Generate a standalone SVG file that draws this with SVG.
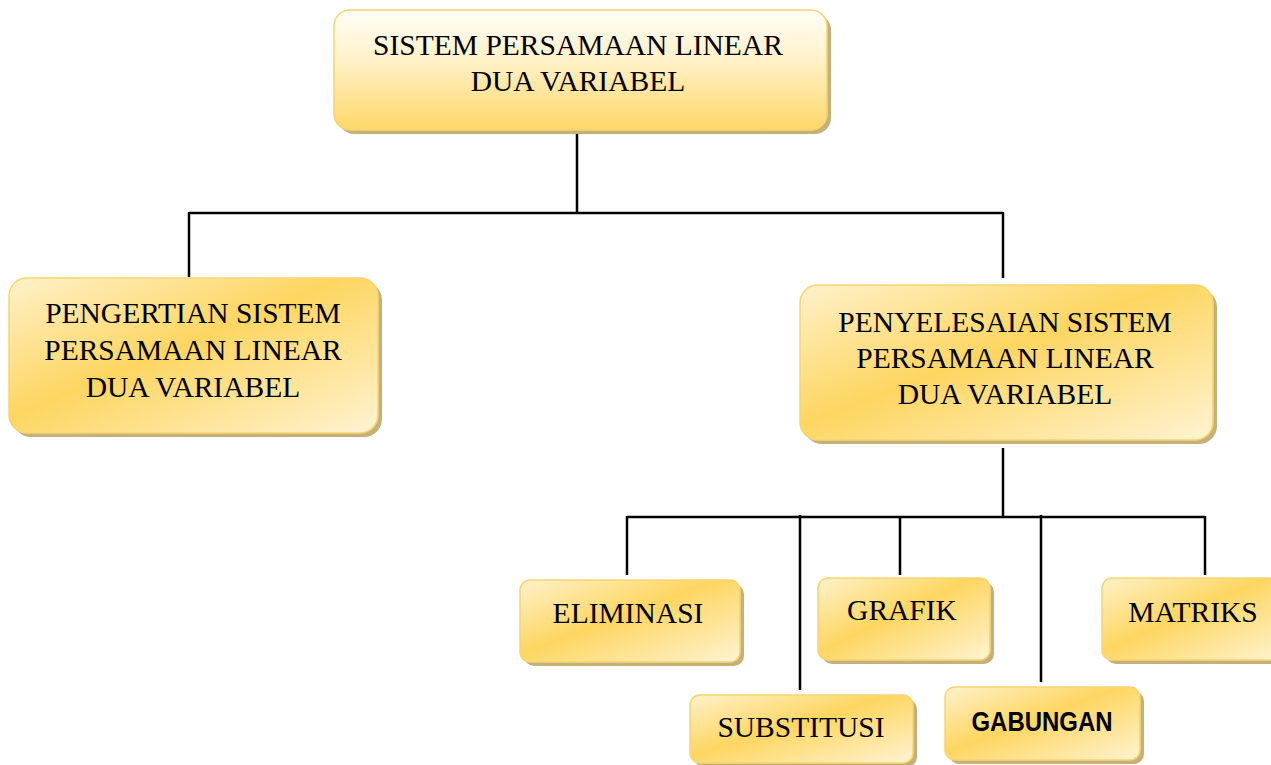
<svg xmlns="http://www.w3.org/2000/svg" width="1271" height="765" viewBox="0 0 1271 765">
<defs>
<linearGradient id="gTop" x1="0" y1="0" x2="0" y2="1">
<stop offset="0" stop-color="#fffdf7"/>
<stop offset="0.45" stop-color="#fff0c4"/>
<stop offset="1" stop-color="#fdd767"/>
</linearGradient>
<linearGradient id="gDiag" x1="0" y1="0" x2="1" y2="1">
<stop offset="0" stop-color="#fff1cb"/>
<stop offset="0.45" stop-color="#fdd661"/>
<stop offset="1" stop-color="#fff3d2"/>
</linearGradient>
</defs>
<style>
.shadow{fill:#c5b07a;}
.box{stroke:#f6d570;stroke-width:1.5;}
.top{fill:url(#gTop);}
.diag{fill:url(#gDiag);}
.t{font-family:"Liberation Serif","Times New Roman",serif;font-size:29.5px;fill:#000;text-anchor:middle;}
.s{font-family:"Liberation Sans",Arial,sans-serif;font-size:27px;font-weight:bold;fill:#000;text-anchor:middle;}
.c{stroke:#000;stroke-width:2.5;fill:none;}
</style>
<g id="connectors">
<path class="c" d="M577 130 V213 M189 213 H1003 M189 212 V277 M1003 212 V278"/>
<path class="c" d="M1003 448 V517 M627 517 H1205 M627 516 V575 M800 515 V690 M900 516 V575 M1041 515 V682 M1205 516 V575"/>
</g>
<g id="node-root">
<rect class="shadow" x="338" y="14" width="493" height="120" rx="16"/>
<rect class="box top" x="334" y="10" width="493" height="120" rx="16"/>
<text class="t" x="578" y="55">SISTEM PERSAMAAN LINEAR</text>
<text class="t" x="578" y="91">DUA VARIABEL</text>
</g>
<g id="node-pengertian">
<rect class="shadow" x="13" y="282" width="369" height="155" rx="18"/>
<rect class="box diag" x="9" y="278" width="369" height="155" rx="18"/>
<text class="t" x="193" y="323">PENGERTIAN SISTEM</text>
<text class="t" x="193" y="360">PERSAMAAN LINEAR</text>
<text class="t" x="193" y="397">DUA VARIABEL</text>
</g>
<g id="node-penyelesaian">
<rect class="shadow" x="804" y="289" width="413" height="155" rx="18"/>
<rect class="box diag" x="800" y="285" width="413" height="155" rx="18"/>
<text class="t" x="1005" y="332">PENYELESAIAN SISTEM</text>
<text class="t" x="1005" y="368">PERSAMAAN LINEAR</text>
<text class="t" x="1005" y="404">DUA VARIABEL</text>
</g>
<g id="node-eliminasi">
<rect class="shadow" x="524" y="584" width="220" height="82" rx="10"/>
<rect class="box diag" x="520" y="580" width="220" height="82" rx="10"/>
<text class="t" x="628" y="623">ELIMINASI</text>
</g>
<g id="node-substitusi">
<rect class="shadow" x="694" y="699" width="223" height="68" rx="10"/>
<rect class="box diag" x="690" y="695" width="223" height="68" rx="10"/>
<text class="t" x="801" y="737">SUBSTITUSI</text>
</g>
<g id="node-grafik">
<rect class="shadow" x="822" y="582" width="172" height="82" rx="10"/>
<rect class="box diag" x="818" y="578" width="172" height="82" rx="10"/>
<text class="t" x="902" y="620">GRAFIK</text>
</g>
<g id="node-gabungan">
<rect class="shadow" x="949" y="691" width="195" height="73" rx="10"/>
<rect class="box diag" x="945" y="687" width="195" height="73" rx="10"/>
<text class="s" x="1042" y="731" textLength="141" lengthAdjust="spacingAndGlyphs">GABUNGAN</text>
</g>
<g id="node-matriks">
<rect class="shadow" x="1106" y="582" width="180" height="82" rx="10"/>
<rect class="box diag" x="1102" y="578" width="180" height="82" rx="10"/>
<text class="t" x="1193" y="622">MATRIKS</text>
</g>
</svg>
